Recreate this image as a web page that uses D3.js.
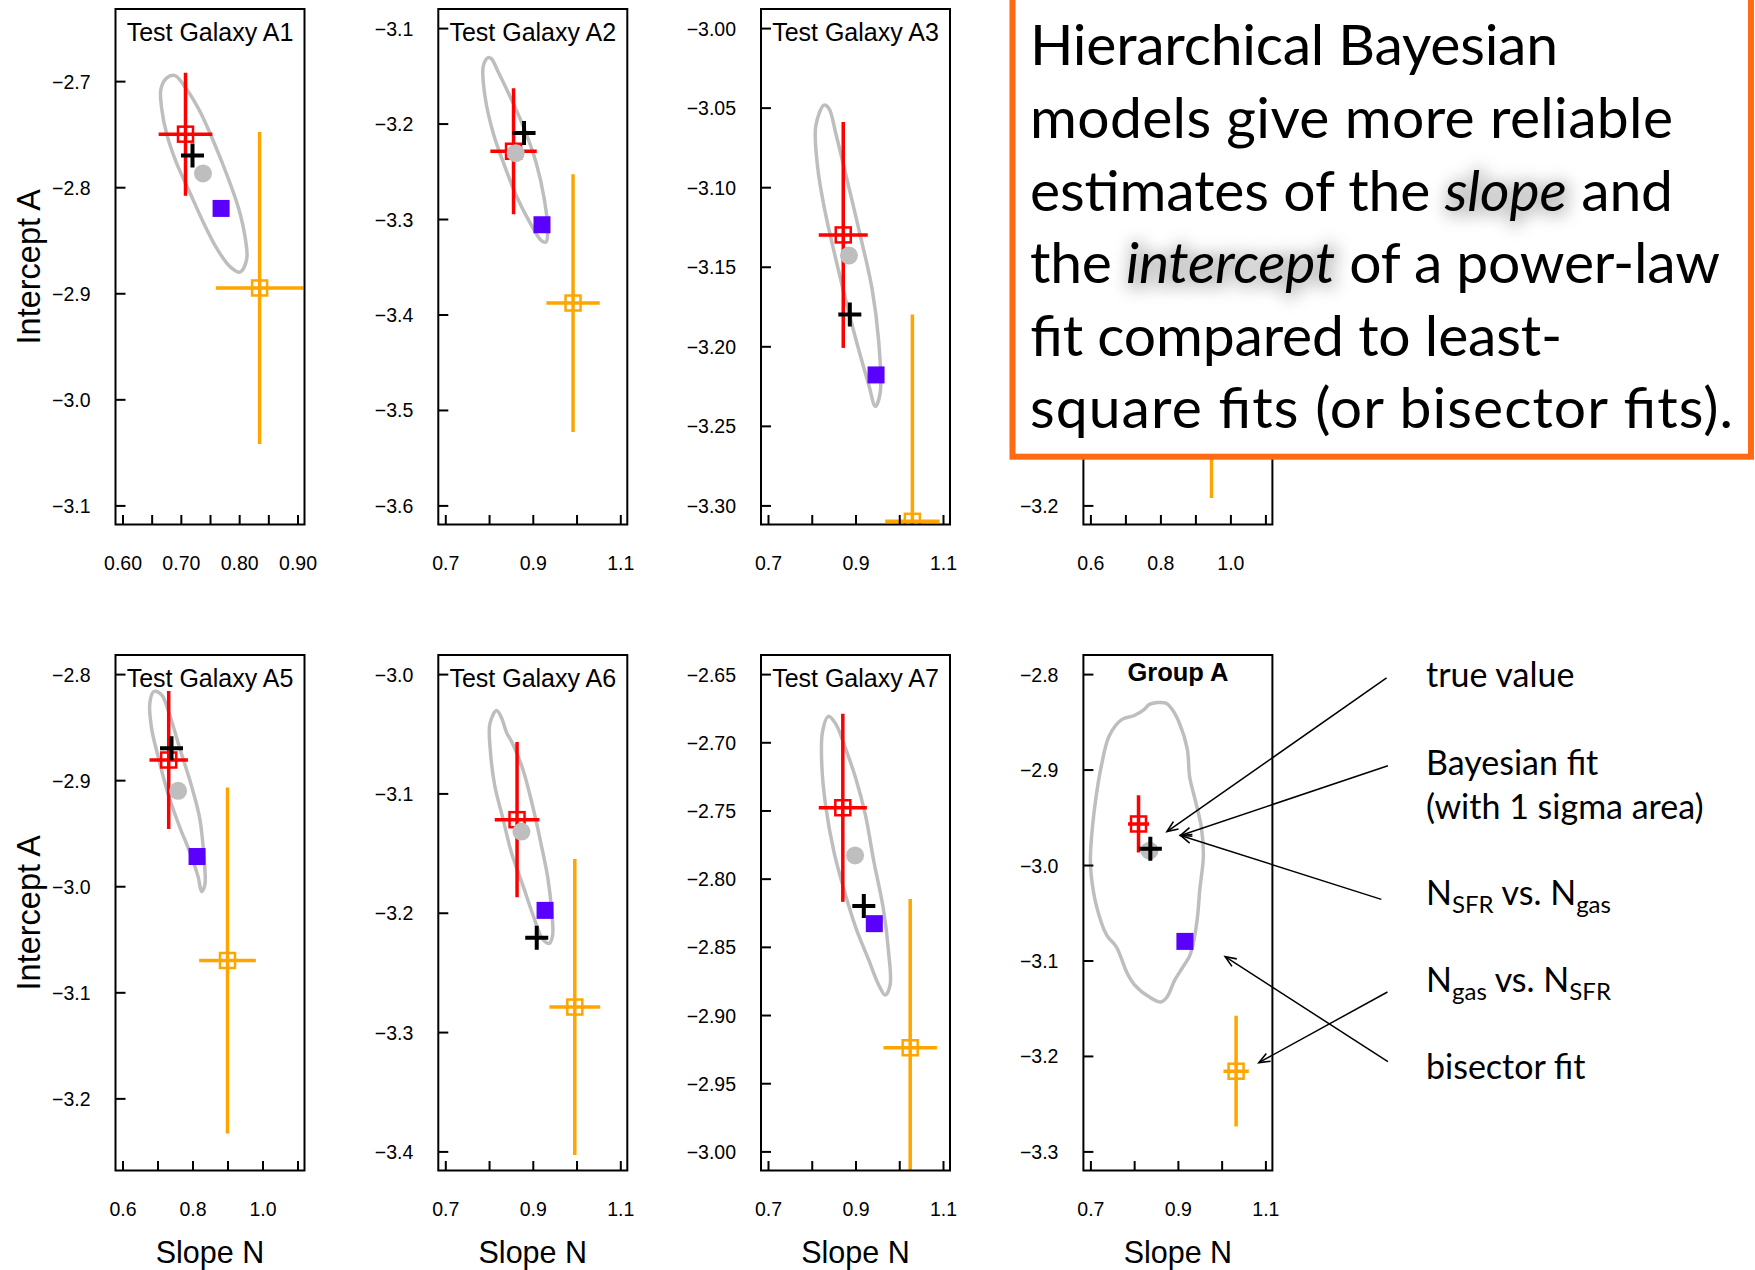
<!DOCTYPE html>
<html>
<head>
<meta charset="utf-8">
<script src="https://cdn.jsdelivr.net/npm/d3@7"></script>
<style>
  html, body { margin: 0; padding: 0; background: #fff; }
  svg { display: block; }
</style>
</head>
<body>
<svg id="chart" width="1755" height="1270"></svg>
<script>
// ---------- data ----------
// the A4 panel sits under the call-out box, so its title is not drawn
const panelTitles = ["Test Galaxy A1", "Test Galaxy A2", "Test Galaxy A3", "",
                     "Test Galaxy A5", "Test Galaxy A6", "Test Galaxy A7", "Group A"];

// plotting limits (slope N, intercept A) per panel
const slopeLimits = [[0.6, 0.9], [0.7, 1.1], [0.7, 1.1], [0.6, 1.1],
                     [0.6, 1.1], [0.7, 1.1], [0.7, 1.1], [0.7, 1.1]];
const interceptLimits = [[-3.1, -2.65], [-3.6, -3.1], [-3.3, -3.0], [-3.2, -2.75],
                         [-3.25, -2.8], [-3.4, -3.0], [-3.0, -2.65], [-3.3, -2.8]];

const xTicks = [
  [0.60, 0.65, 0.70, 0.75, 0.80, 0.85, 0.90],
  [0.7, 0.8, 0.9, 1.0, 1.1],
  [0.7, 0.8, 0.9, 1.0, 1.1],
  [0.6, 0.7, 0.8, 0.9, 1.0, 1.1],
  [0.6, 0.7, 0.8, 0.9, 1.0, 1.1],
  [0.7, 0.8, 0.9, 1.0, 1.1],
  [0.7, 0.8, 0.9, 1.0, 1.1],
  [0.7, 0.8, 0.9, 1.0, 1.1]
];
const xTickLabels = [
  ["0.60", "", "0.70", "", "0.80", "", "0.90"],
  ["0.7", "", "0.9", "", "1.1"],
  ["0.7", "", "0.9", "", "1.1"],
  ["0.6", "", "0.8", "", "1.0", ""],
  ["0.6", "", "0.8", "", "1.0", ""],
  ["0.7", "", "0.9", "", "1.1"],
  ["0.7", "", "0.9", "", "1.1"],
  ["0.7", "", "0.9", "", "1.1"]
];
const yTicks = [
  [-2.7, -2.8, -2.9, -3.0, -3.1],
  [-3.1, -3.2, -3.3, -3.4, -3.5, -3.6],
  [-3.00, -3.05, -3.10, -3.15, -3.20, -3.25, -3.30],
  [-3.2],
  [-2.8, -2.9, -3.0, -3.1, -3.2],
  [-3.0, -3.1, -3.2, -3.3, -3.4],
  [-2.65, -2.70, -2.75, -2.80, -2.85, -2.90, -2.95, -3.00],
  [-2.8, -2.9, -3.0, -3.1, -3.2, -3.3]
];
const yTickLabels = [
  ["\u22122.7", "\u22122.8", "\u22122.9", "\u22123.0", "\u22123.1"],
  ["\u22123.1", "\u22123.2", "\u22123.3", "\u22123.4", "\u22123.5", "\u22123.6"],
  ["\u22123.00", "\u22123.05", "\u22123.10", "\u22123.15", "\u22123.20", "\u22123.25", "\u22123.30"],
  ["\u22123.2"],
  ["\u22122.8", "\u22122.9", "\u22123.0", "\u22123.1", "\u22123.2"],
  ["\u22123.0", "\u22123.1", "\u22123.2", "\u22123.3", "\u22123.4"],
  ["\u22122.65", "\u22122.70", "\u22122.75", "\u22122.80", "\u22122.85", "\u22122.90", "\u22122.95", "\u22123.00"],
  ["\u22122.8", "\u22122.9", "\u22123.0", "\u22123.1", "\u22123.2", "\u22123.3"]
];

// true value [N, A]
const trueValue = [[0.720, -2.770], [0.880, -3.210], [0.887, -3.180], null,
                   [0.740, -2.870], [0.909, -3.221], [0.919, -2.820], [0.837, -2.983]];
// Bayesian posterior estimate [N, A]
const bayesFit = [[0.738, -2.787], [0.861, -3.231], [0.885, -3.143], null,
                  [0.759, -2.910], [0.874, -3.132], [0.899, -2.783], [0.835, -2.985]];
// N_SFR vs. N_gas least-squares fit [N, A, errN, errA]
const sfrOnGas = [[0.708, -2.750, 0.046, 0.058], [0.856, -3.229, 0.053, 0.066],
                  [0.872, -3.130, 0.056, 0.071], null,
                  [0.732, -2.881, 0.055, 0.065], [0.864, -3.122, 0.051, 0.065],
                  [0.871, -2.748, 0.055, 0.069], [0.810, -2.957, 0.024, 0.030]];
// N_gas vs. N_SFR least-squares fit [N, A]
const gasOnSfr = [[0.769, -2.820], [0.921, -3.306], [0.947, -3.218], null,
                  [0.813, -2.972], [0.928, -3.198], [0.943, -2.833], [0.916, -3.080]];
// bisector fit [N, A, errN, errA]
const bisector = [[0.835, -2.895, 0.075, 0.147], [0.992, -3.388, 0.061, 0.135],
                  [1.030, -3.310, 0.062, 0.130], [0.946, -3.020, 0.060, 0.173],
                  [0.900, -3.070, 0.081, 0.163], [0.996, -3.279, 0.058, 0.124],
                  [1.025, -2.924, 0.061, 0.109], [1.033, -3.216, 0.029, 0.058]];

// 1-sigma posterior contours [N, A]
const sigmaContours = [
  [[0.6899,-2.6948],[0.7099,-2.7077],[0.7328,-2.7286],[0.7557,-2.7564],[0.7786,-2.7878],[0.7986,-2.8192],
   [0.8101,-2.8470],[0.8129,-2.8679],[0.8015,-2.8801],[0.7843,-2.8749],[0.7614,-2.8575],[0.7385,-2.8331],
   [0.7156,-2.8052],[0.6927,-2.7774],[0.6756,-2.7495],[0.6670,-2.7251],[0.6658,-2.7077],[0.6756,-2.6972]],
  [[0.7981,-3.131],[0.7868,-3.140],[0.7906,-3.171],[0.8094,-3.2098],[0.8358,-3.2447],[0.8623,-3.2757],
   [0.8925,-3.3029],[0.9189,-3.3223],[0.9302,-3.3242],[0.934,-3.3106],[0.9264,-3.2796],[0.9075,-3.2408],
   [0.8774,-3.202],[0.8472,-3.171],[0.8208,-3.1458],[0.8057,-3.1322]],
  [[0.8283,-3.0484],[0.8094,-3.0612],[0.8132,-3.0868],[0.8283,-3.1124],[0.8509,-3.1404],[0.8774,-3.1706],
   [0.9038,-3.1986],[0.9302,-3.2242],[0.9453,-3.2377],[0.9566,-3.2288],[0.9528,-3.1962],[0.9377,-3.1636],
   [0.9075,-3.1264],[0.8774,-3.0915],[0.8547,-3.0659],[0.8396,-3.0507]],
  null,
  [[0.6895,-2.8164],[0.6781,-2.8273],[0.6829,-2.8507],[0.7019,-2.878],[0.7305,-2.9132],[0.7638,-2.9444],
   [0.7924,-2.9678],[0.8162,-2.9912],[0.8257,-3.0049],[0.8352,-2.999],[0.8324,-2.9717],[0.821,-2.9366],
   [0.7971,-2.9054],[0.7638,-2.8702],[0.7352,-2.839],[0.7114,-2.8195]],
  [[0.817,-3.0306],[0.8019,-3.0417],[0.8034,-3.066],[0.8132,-3.0938],[0.8321,-3.1215],[0.8509,-3.1493],
   [0.8774,-3.1771],[0.9,-3.2014],[0.9226,-3.2222],[0.9377,-3.2257],[0.9453,-3.2188],[0.943,-3.1979],
   [0.934,-3.1701],[0.9189,-3.1424],[0.9,-3.1111],[0.8774,-3.0799],[0.8547,-3.059],[0.8396,-3.0486],[0.8283,-3.0365]],
  [[0.8381,-2.681],[0.8245,-2.6925],[0.823,-2.7168],[0.8321,-2.7472],[0.8509,-2.7806],[0.8736,-2.808],
   [0.9,-2.8353],[0.9302,-2.8596],[0.9528,-2.8778],[0.9679,-2.8854],[0.9792,-2.8778],[0.9755,-2.8535],
   [0.9642,-2.8231],[0.9415,-2.7867],[0.9226,-2.7533],[0.9,-2.7259],[0.8774,-2.7047],[0.8547,-2.6865]],
  [[0.8349,-2.8317],[0.8233,-2.8369],[0.8003,-2.8434],[0.7715,-2.8477],[0.7427,-2.865],[0.7254,-2.8954],
   [0.7138,-2.9258],[0.7046,-2.9605],[0.7,-2.993],[0.7023,-3.0125],[0.7138,-3.0428],[0.7369,-3.0732],
   [0.7599,-3.0862],[0.783,-3.1122],[0.8003,-3.1252],[0.8349,-3.1383],[0.8614,-3.1435],[0.8752,-3.1383],
   [0.8925,-3.1209],[0.9098,-3.1079],[0.9271,-3.0949],[0.9352,-3.0819],[0.9444,-3.0559],[0.9501,-3.0255],
   [0.9582,-2.9908],[0.9536,-2.9605],[0.9386,-2.9301],[0.9271,-2.9084],[0.9213,-2.8781],[0.904,-2.852],
   [0.8867,-2.8369],[0.8729,-2.8304]]
];

// key labels on the right, each a list of text runs
const keyLabels = [
  [{ t: "true value" }],
  [{ t: "Bayesian fit" }],
  [{ t: "(with 1 sigma area)" }],
  [{ t: "N" }, { t: "SFR", sub: true }, { t: " vs. N" }, { t: "gas", sub: true }],
  [{ t: "N" }, { t: "gas", sub: true }, { t: " vs. N" }, { t: "SFR", sub: true }],
  [{ t: "bisector fit" }]
];
// pointer lines from the key into the Group A panel, in Group A (N, A) units
const keyPointers = [
  { from: [1.377, -2.804], to: [0.875, -2.965] },
  { from: [1.380, -2.896], to: [0.906, -2.969] },
  { from: [1.365, -3.036], to: [0.906, -2.969] },
  { from: [1.379, -3.133], to: [1.085, -3.207] },
  { from: [1.380, -3.206], to: [1.008, -3.096] }
];

// statement in the call-out box
const noteLines = [
  [{ t: "Hierarchical Bayesian" }],
  [{ t: "models give more reliable" }],
  [{ t: "estimates of the " }, { t: "slope", it: true }, { t: " and" }],
  [{ t: "the " }, { t: "intercept", it: true }, { t: " of a power-law" }],
  [{ t: "fit compared to least-" }],
  [{ t: "square fits (or bisector fits)." }]
];

// ---------- layout ----------
const colLeft = [115.5, 438.3, 761, 1083.4];
const rowTop = [9, 655];
const boxW = 189, boxH = 515.5;
const axisFont = "'Liberation Sans', Arial, Helvetica, sans-serif";
const noteFont = "Lato, 'Open Sans', sans-serif";

const COL = { red: "#ff0000", orange: "#ffa500", blue: "#5a00ff", grey: "#bebebe", black: "#000" };

const svg = d3.select("#chart");
const defs = svg.append("defs");

defs.append("marker")
  .attr("id", "arrowhead")
  .attr("viewBox", "-13 -7 15 14")
  .attr("refX", 0).attr("refY", 0)
  .attr("markerWidth", 15).attr("markerHeight", 14)
  .attr("markerUnits", "userSpaceOnUse")
  .attr("orient", "auto")
  .append("path")
  .attr("d", "M-11,-4.5 L0,0 L-11,4.5")
  .attr("fill", "none").attr("stroke", "#000").attr("stroke-width", 1.6);

const glow = defs.append("filter").attr("id", "wordGlow")
  .attr("x", "-30%").attr("y", "-80%").attr("width", "160%").attr("height", "260%");
glow.append("feGaussianBlur").attr("stdDeviation", 8);

const pad = ([a, b]) => [a - 0.04 * (b - a), b + 0.04 * (b - a)];
const scales = [];

panelTitles.forEach((title, i) => {
  const col = i % 4, row = Math.floor(i / 4);
  const left = colLeft[col], top = rowTop[row];
  const x = d3.scaleLinear().domain(pad(slopeLimits[i])).range([left, left + boxW]);
  const y = d3.scaleLinear().domain(pad(interceptLimits[i])).range([top + boxH, top]);
  scales.push({ x, y });

  const g = svg.append("g").attr("class", "panel");
  const clipId = "plotClip" + i;
  defs.append("clipPath").attr("id", clipId)
    .append("rect").attr("x", left).attr("y", top).attr("width", boxW).attr("height", boxH);
  const plot = g.append("g").attr("clip-path", `url(#${clipId})`);

  // 1-sigma contour
  if (sigmaContours[i]) {
    plot.append("path")
      .datum(sigmaContours[i])
      .attr("d", d3.line().x(d => x(d[0])).y(d => y(d[1])).curve(d3.curveCatmullRomClosed.alpha(0.5)))
      .attr("fill", "none").attr("stroke", COL.grey).attr("stroke-width", 3.5);
  }

  // fit with error bars and open square
  const fitMark = (d, color) => {
    if (!d) return;
    const [n, a, en, ea] = d;
    const m = plot.append("g");
    m.append("line").attr("x1", x(n - en)).attr("x2", x(n + en)).attr("y1", y(a)).attr("y2", y(a))
      .attr("stroke", color).attr("stroke-width", 3.5);
    m.append("line").attr("x1", x(n)).attr("x2", x(n)).attr("y1", y(a - ea)).attr("y2", y(a + ea))
      .attr("stroke", color).attr("stroke-width", 3.5);
    m.append("rect").attr("x", x(n) - 7.5).attr("y", y(a) - 7.5).attr("width", 15).attr("height", 15)
      .attr("fill", "none").attr("stroke", color).attr("stroke-width", 2.5);
  };
  fitMark(sfrOnGas[i], COL.red);
  fitMark(bisector[i], COL.orange);

  if (gasOnSfr[i]) {
    plot.append("rect")
      .attr("x", x(gasOnSfr[i][0]) - 8.5).attr("y", y(gasOnSfr[i][1]) - 8.5)
      .attr("width", 17).attr("height", 17).attr("fill", COL.blue);
  }
  if (bayesFit[i]) {
    plot.append("circle")
      .attr("cx", x(bayesFit[i][0])).attr("cy", y(bayesFit[i][1])).attr("r", 9)
      .attr("fill", COL.grey);
  }
  if (trueValue[i]) {
    const cx = x(trueValue[i][0]), cy = y(trueValue[i][1]);
    plot.append("path")
      .attr("d", `M${cx - 11.5},${cy}H${cx + 11.5}M${cx},${cy - 12}V${cy + 12}`)
      .attr("stroke", COL.black).attr("stroke-width", 4).attr("fill", "none");
  }

  // axes (inward ticks, R style)
  const xa = g.append("g").attr("transform", `translate(0,${top + boxH})`)
    .call(d3.axisBottom(x).tickValues(xTicks[i]).tickFormat((d, k) => xTickLabels[i][k])
      .tickSizeInner(-9.5).tickSizeOuter(0).tickPadding(0));
  xa.select(".domain").remove();
  xa.attr("font-family", axisFont).attr("font-size", 19.5);
  xa.selectAll(".tick line").attr("stroke-width", 2);
  xa.selectAll(".tick text").attr("y", 38.5).attr("dy", "0.36em").attr("fill", "#000");

  const ya = g.append("g").attr("transform", `translate(${left},0)`)
    .call(d3.axisLeft(y).tickValues(yTicks[i]).tickFormat((d, k) => yTickLabels[i][k])
      .tickSizeInner(-10).tickSizeOuter(0).tickPadding(25));
  ya.select(".domain").remove();
  ya.attr("font-family", axisFont).attr("font-size", 19.5);
  ya.selectAll(".tick line").attr("stroke-width", 2);
  ya.selectAll(".tick text").attr("dy", "0.36em").attr("fill", "#000");

  // frame
  g.append("rect").attr("x", left).attr("y", top).attr("width", boxW).attr("height", boxH)
    .attr("fill", "none").attr("stroke", "#000").attr("stroke-width", 2);

  // panel title
  const isGroup = i === 7;
  if (title) {
    g.append("text")
      .attr("x", left + boxW / 2).attr("y", top + (isGroup ? 25.5 : 31.7))
      .attr("text-anchor", "middle")
      .attr("font-family", axisFont)
      .attr("font-size", isGroup ? 25.5 : 25)
      .attr("font-weight", isGroup ? "bold" : "normal")
      .text(title);
  }

  // axis titles
  if (col === 0) {
    g.append("text")
      .attr("transform", `translate(28,${top + boxH / 2}) rotate(-90)`)
      .attr("text-anchor", "middle").attr("dy", "0.36em")
      .attr("font-family", axisFont).attr("font-size", 32.5)
      .text("Intercept A");
  }
  if (row === 1) {
    g.append("text")
      .attr("x", left + boxW / 2).attr("y", 1263)
      .attr("text-anchor", "middle")
      .attr("font-family", axisFont).attr("font-size", 30.5)
      .text("Slope N");
  }
});

// ---------- key with pointers into Group A ----------
const gx = scales[7].x, gy = scales[7].y;
const keyGroup = svg.append("g");
keyGroup.selectAll("line")
  .data(keyPointers)
  .join("line")
  .attr("x1", d => gx(d.from[0])).attr("y1", d => gy(d.from[1]))
  .attr("x2", d => gx(d.to[0])).attr("y2", d => gy(d.to[1]))
  .attr("stroke", "#000").attr("stroke-width", 1.5)
  .attr("marker-end", "url(#arrowhead)");

const keyY = [687, 774.5, 818.5, 905, 992, 1078.5];
keyLabels.forEach((runs, k) => {
  const t = keyGroup.append("text")
    .attr("x", 1426).attr("y", keyY[k])
    .attr("font-family", noteFont).attr("font-size", 34).attr("fill", "#000");
  let shifted = false;
  runs.forEach(r => {
    const s = t.append("tspan").text(r.t);
    if (r.sub && !shifted) { s.attr("dy", 8).attr("font-size", 24); shifted = true; }
    else if (r.sub) { s.attr("font-size", 24); }
    else if (shifted) { s.attr("dy", -8); shifted = false; }
  });
});

// ---------- call-out box ----------
const note = svg.append("g");
note.append("rect")
  .attr("x", 1012.5).attr("y", -10).attr("width", 738.5).attr("height", 466.7)
  .attr("fill", "#fff").attr("stroke", "#ff6a13").attr("stroke-width", 6);

const glowLayer = note.append("g");
const textLayer = note.append("g");
const noteBase = [65, 138, 210.5, 283, 355.5, 428];
const noteWidth = [528, 643, 643, 690, 532, 703];
noteLines.forEach((runs, k) => {
  const t = textLayer.append("text")
    .attr("x", 1030).attr("y", noteBase[k])
    .attr("font-family", noteFont).attr("font-size", 57).attr("fill", "#000")
    .attr("textLength", noteWidth[k]).attr("lengthAdjust", "spacing");
  runs.forEach(r => {
    t.append("tspan").text(r.t).attr("font-style", r.it ? "italic" : "normal");
  });
  // soft halo behind italic words
  let idx = 0;
  runs.forEach(r => {
    if (r.it) {
      const px = t.node().getStartPositionOfChar(idx).x;
      const ex = t.node().getEndPositionOfChar(idx + r.t.length - 1).x;
      glowLayer.append("text")
        .attr("x", px + 2).attr("y", noteBase[k] + 2)
        .attr("font-family", noteFont).attr("font-size", 57).attr("font-style", "italic")
        .attr("textLength", ex - px).attr("lengthAdjust", "spacing")
        .attr("fill", "#777").attr("opacity", 0.4)
        .attr("stroke", "#777").attr("stroke-width", 8)
        .attr("filter", "url(#wordGlow)")
        .text(r.t);
    }
    idx += r.t.length;
  });
});
</script>
</body>
</html>
